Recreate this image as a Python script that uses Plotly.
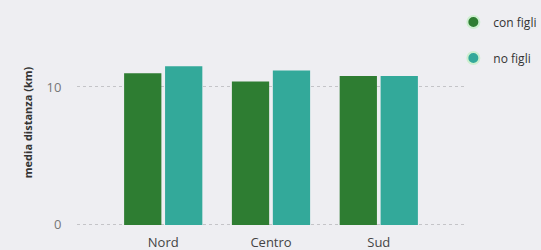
import plotly.graph_objects as go

categories = ["Nord", "Centro", "Sud"]
con_figli = [11.0, 10.4, 10.8]
no_figli = [11.5, 11.2, 10.8]
series_names = ["con figli", "no figli"]
colors = ["#2E7D32", "#33A99A"]

fig = go.Figure()
for name, vals, col in zip(series_names, [con_figli, no_figli], colors):
    fig.add_trace(go.Bar(x=categories, y=vals, name=name, marker_color=col,
                         marker_line_width=0, showlegend=False))
for name, col in zip(series_names, colors):
    fig.add_trace(go.Scatter(x=[None], y=[None], mode="markers", name=name,
                             legendgroup=name,
                             marker=dict(symbol="circle", size=13, color=col,
                                         line=dict(color="#CDEFD0", width=1))))

font_family = "Segoe UI, Open Sans, Noto Sans, sans-serif"
fig.update_layout(
    width=541, height=250,
    margin=dict(l=77, r=76, t=18, b=23, autoexpand=False),
    paper_bgcolor="#EEEEF2", plot_bgcolor="#EEEEF2",
    barmode="group", bargap=0.24, bargroupgap=0.09,
    font=dict(family=font_family, color="#444444"),
    legend=dict(x=0.97, y=1.05, xanchor="left", yanchor="top",
                traceorder="grouped", tracegroupgap=17,
                font=dict(size=12, color="#333333"),
                bgcolor="rgba(0,0,0,0)", itemsizing="constant"),
)
fig.update_xaxes(range=[-0.8, 2.8], showgrid=False, showline=False,
                 automargin=False,
                 tickfont=dict(size=13, color="#444444"),
                 ticks="outside", ticklen=3, tickcolor="rgba(0,0,0,0)")
fig.update_yaxes(range=[-0.15, 15], tickvals=[0, 10], showgrid=True,
                 automargin=False,
                 gridcolor="#C4C4C8", griddash="dot", gridwidth=1,
                 zeroline=False,
                 tickfont=dict(size=13, color="#777777"),
                 ticks="outside", ticklen=12, tickcolor="rgba(0,0,0,0)",
                 title=dict(text="<b>media distanza (km)</b>", standoff=11,
                            font=dict(size=11, color="#333333")))

fig.write_html("out.html",
               config={"displayModeBar": False},
               post_script="document.body.style.margin='0';"
                           "document.body.style.background='#EEEEF2';")
